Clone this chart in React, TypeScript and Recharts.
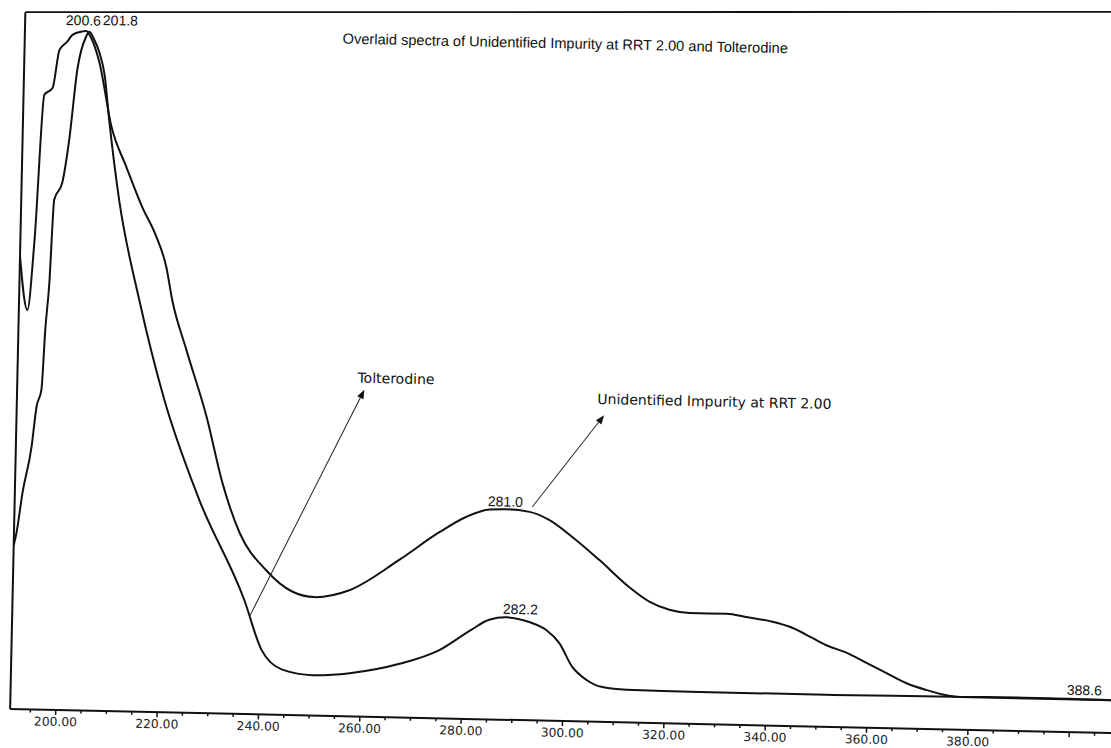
import React from 'react';
import { LineChart, Line, XAxis, YAxis, ReferenceLine, ReferenceDot } from 'recharts';

// Wavelength (nm) and absorbance (relative units)
const impurityNm = [191, 192.7, 193.8, 195.1, 196.7, 197.9, 199.4, 200.4, 202.3, 203.1, 204.1, 205.8, 208.5, 211.6, 214.9, 217.8, 219.9, 221.2, 224.2, 228.5, 231.9, 235.5, 240.9, 246.2, 250.5, 257.4, 267.1, 274.9, 280.2, 284.7, 288.0, 292.6, 296.5, 301.2, 306.6, 312.6, 316.6, 320.6, 324.6, 331.9, 335.8, 341.0, 344.9, 348.9, 351.7, 355.7, 359.7, 363.7, 367.7, 371.6, 375.6, 378.2, 386.1, 395.9, 409];
const impurityAbs = [65, 57.3, 67.4, 88.2, 89.2, 94.7, 95.9, 96.9, 97.4, 97.5, 96.5, 93.1, 83.8, 78.1, 72.4, 68.2, 63.9, 59.2, 52.1, 42.5, 33.1, 26.0, 20.7, 17.7, 17.0, 18.1, 22.6, 26.7, 29.0, 30.1, 30.2, 29.9, 28.8, 26.4, 23.2, 19.4, 17.4, 16.3, 15.9, 15.9, 15.5, 14.9, 14.1, 12.7, 11.7, 10.7, 9.3, 7.9, 6.5, 5.6, 4.9, 4.7, 4.8, 4.8, 4.7];

const tolterodineNm = [191, 191.5, 192.5, 194.1, 194.9, 195.8, 196.3, 196.9, 197.5, 199.0, 200.2, 201.5, 203.1, 203.7, 204.7, 205.8, 206.9, 208.0, 210.3, 214.7, 220.1, 227.4, 236.7, 240.3, 244.5, 250.5, 257.8, 267.6, 275.4, 281.6, 285.1, 288.5, 293.0, 296.4, 299.0, 301.7, 304.5, 307.7, 312.5, 326.9, 351.9, 378.2, 409];
const tolterodineAbs = [23.5, 25.3, 31.0, 37.7, 43.4, 45.9, 54.5, 61.2, 73.2, 75.6, 81.8, 91.9, 96.7, 97.4, 96.3, 94.4, 91.3, 84.8, 73.4, 59.1, 44.8, 30.6, 16.4, 9.3, 6.5, 5.8, 6.2, 7.7, 9.8, 12.8, 14.3, 14.7, 14.1, 13.0, 11.2, 7.8, 6.0, 5.0, 4.7, 4.6, 4.6, 4.7, 4.7];

const xTicks = [195, 200, 205, 210, 215, 220, 225, 230, 235, 240, 245, 250, 255, 260, 265, 270, 275, 280, 285, 290, 295, 300, 305, 310, 315, 320, 325, 330, 335, 340, 345, 350, 355, 360, 365, 370, 375, 380, 385, 390, 395, 400, 405];
const labelledTicks = [200, 220, 240, 260, 280, 300, 320, 340, 360, 380];
const majorTicks = [200, 220, 240, 260, 280, 300, 320, 340, 360, 380, 400];

const titleText = 'Overlaid spectra of Unidentified Impurity at RRT 2.00 and Tolterodine';

// peak / annotation labels: [text, nm, abs]
const peakLabels: [string, number, number][] = [
  ['200.6', 202.5, 98.3],
  ['201.8', 209.8, 98.4],
  ['281.0', 287.8, 30.6],
  ['282.2', 291.2, 15.2],
  ['388.6', 402.8, 5.35],
];
const arrowLabels: [string, number, number][] = [
  ['Tolterodine', 258.1, 47.9],
  ['Unidentified Impurity at RRT 2.00', 305.5, 45.6],
];
const arrows: [number, number, number, number][] = [
  [237.8, 14.0, 259.5, 46.9],
  [293.1, 30.6, 306.9, 44.0],
];

const impurityData = impurityNm.map((nm, i) => ({ nm, abs: impurityAbs[i] }));
const tolterodineData = tolterodineNm.map((nm, i) => ({ nm, abs: tolterodineAbs[i] }));

const ARIAL = "'Liberation Sans', Arial, sans-serif";
const VERDANA = "'DejaVu Sans', Verdana, sans-serif";

const Tick = (props: any) => {
  const { x, y, payload } = props;
  const major = majorTicks.includes(payload.value);
  const labelled = labelledTicks.includes(payload.value);
  return (
    <g>
      <line x1={x} y1={y} x2={x} y2={y + (major ? 5 : 3)} stroke="#111" strokeWidth={1.5} />
      {labelled && (
        <text x={x} y={y + 16} textAnchor="middle" fontFamily={VERDANA} fontSize={12.3} fill="#222">
          {payload.value.toFixed(2)}
        </text>
      )}
    </g>
  );
};

const arrowShape = (p: any) => {
  const { x1, y1, x2, y2 } = p;
  const dx = x2 - x1;
  const dy = y2 - y1;
  const len = Math.sqrt(dx * dx + dy * dy) || 1;
  const ux = dx / len;
  const uy = dy / len;
  const hl = 9;
  const hw = 3.5;
  const bx = x2 - ux * hl;
  const by = y2 - uy * hl;
  const pts = `${x2},${y2} ${bx - uy * hw},${by + ux * hw} ${bx + uy * hw},${by - ux * hw}`;
  return (
    <g>
      <line x1={x1} y1={y1} x2={bx} y2={by} stroke="#222" strokeWidth={1} />
      <polygon points={pts} fill="#111" />
    </g>
  );
};

const textShape = (text: string, anchor: string, font: string, size: number) => (p: any) => (
  <text x={p.cx} y={p.cy} textAnchor={anchor} fontFamily={font} fontSize={size} fill="#111">
    {text}
  </text>
);

export default function App() {
  return (
    <div style={{ position: 'absolute', left: 0, top: 0, width: 1111, height: 748, overflow: 'hidden', background: '#fff' }}>
      <div
        style={{
          position: 'absolute',
          left: 0,
          top: -20,
          width: 1130,
          height: 780,
          transform: 'rotate(1.25deg)',
          transformOrigin: '560px 741px',
        }}
      >
        <LineChart width={1130} height={780} margin={{ top: 44, right: 15, bottom: 9, left: 10 }}>
          <XAxis
            type="number"
            dataKey="nm"
            domain={[191, 409]}
            allowDataOverflow
            ticks={xTicks}
            interval={0}
            tickSize={0}
            tickMargin={0}
            tickLine={false}
            tick={<Tick />}
            height={30}
            axisLine={{ stroke: '#111', strokeWidth: 2 }}
          />
          <YAxis type="number" domain={[0, 100]} allowDataOverflow hide />
          <ReferenceLine
            segment={[{ x: 191, y: 0 }, { x: 191, y: 100 }]}
            ifOverflow="visible"
            stroke="#111"
            strokeWidth={2}
          />
          <ReferenceLine
            segment={[{ x: 191, y: 100 }, { x: 409, y: 103.5 }]}
            ifOverflow="visible"
            stroke="#111"
            strokeWidth={1.8}
          />
          <Line
            data={impurityData}
            dataKey="abs"
            type="monotone"
            stroke="#111"
            strokeWidth={2}
            dot={false}
            isAnimationActive={false}
          />
          <Line
            data={tolterodineData}
            dataKey="abs"
            type="monotone"
            stroke="#111"
            strokeWidth={2}
            dot={false}
            isAnimationActive={false}
          />
          {arrows.map((a, i) => (
            <ReferenceLine
              key={`arrow-${i}`}
              segment={[{ x: a[0], y: a[1] }, { x: a[2], y: a[3] }]}
              ifOverflow="visible"
              shape={arrowShape}
            />
          ))}
          <ReferenceDot x={253.7} y={96.5} ifOverflow="visible" shape={textShape(titleText, 'start', ARIAL, 14.6)} />
          {peakLabels.map((l, i) => (
            <ReferenceDot key={`pk-${i}`} x={l[1]} y={l[2]} ifOverflow="visible" shape={textShape(l[0], 'middle', ARIAL, 14)} />
          ))}
          {arrowLabels.map((l, i) => (
            <ReferenceDot key={`al-${i}`} x={l[1]} y={l[2]} ifOverflow="visible" shape={textShape(l[0], 'start', VERDANA, 14)} />
          ))}
        </LineChart>
      </div>
    </div>
  );
}
